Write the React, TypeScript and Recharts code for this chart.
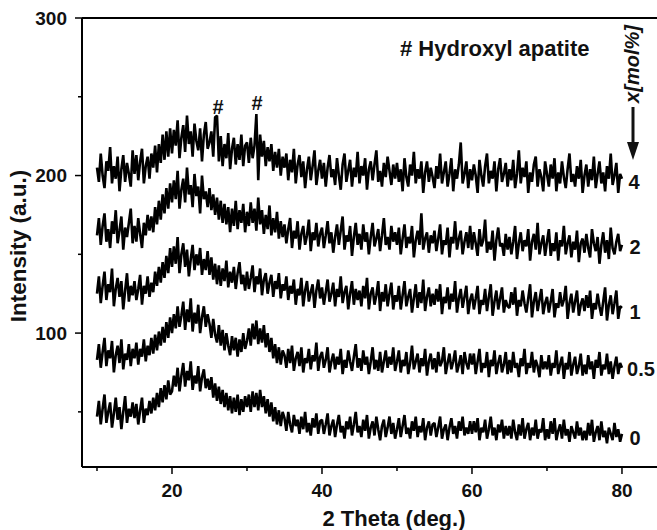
import { LineChart, Line, XAxis, YAxis, ReferenceLine } from "recharts";

// 2-theta sampling of the scans (deg.)
const START = 10;
const STEP = 0.25;

// intensity, one row = 5 deg.
const s4 = [
  205, 196, 214, 200, 192, 209, 203, 218, 195, 206, 198, 212, 190, 204, 213, 196, 208, 201, 193, 216,
  201, 213, 197, 209, 217, 195, 206, 212, 198, 214, 205, 219, 202, 220, 208, 226, 210, 228, 212, 230,
  214, 229, 219, 235, 211, 224, 232, 215, 238, 220, 228, 212, 233, 222, 216, 230, 209, 226, 234, 217,
  221, 228, 212, 237, 238, 209, 225, 206, 220, 211, 227, 204, 217, 224, 207, 220, 210, 226, 206, 219,
  221, 208, 224, 211, 219, 239, 197, 226, 212, 222, 206, 218, 209, 220, 203, 215, 205, 217, 200, 212,
  205, 214, 197, 210, 202, 217, 195, 207, 213, 199, 209, 192, 204, 212, 197, 206, 216, 194, 203, 210,
  198, 208, 193, 205, 213, 199, 204, 194, 211, 200, 191, 207, 214, 196, 203, 210, 193, 205, 199, 215,
  195, 206, 200, 211, 191, 204, 209, 197, 207, 216, 196, 203, 193, 208, 199, 212, 203, 194, 207, 198,
  208, 196, 204, 190, 211, 199, 193, 207, 200, 215, 195, 204, 198, 209, 189, 202, 209, 196, 205, 199,
  192, 206, 198, 214, 195, 202, 209, 193, 201, 211, 190, 204, 198, 207, 221, 195, 201, 209, 192, 204,
  197, 207, 200, 189, 210, 200, 193, 206, 214, 195, 203, 198, 209, 190, 204, 211, 196, 201, 208, 193,
  204, 197, 210, 192, 201, 216, 195, 205, 199, 209, 189, 202, 196, 207, 212, 193, 204, 199, 190, 209,
  201, 193, 207, 198, 211, 190, 202, 195, 209, 199, 192, 204, 214, 196, 201, 193, 206, 198, 210, 189,
  200, 207, 193, 204, 197, 212, 192, 201, 209, 195, 202, 190, 206, 198, 214, 194, 200, 208, 189, 201,
  198,
];

const s2 = [
  162, 173, 156, 168, 176, 158, 166, 154, 171, 163, 178, 157, 165, 174, 153, 167, 161, 170, 179, 157,
  168, 158, 173, 163, 154, 170, 162, 175, 165, 174, 164, 180, 169, 184, 172, 188, 176, 192, 179, 195,
  183, 197, 185, 203, 179, 191, 198, 183, 205, 188, 194, 180, 201, 187, 193, 176, 200, 185, 190, 180,
  192, 178, 188, 175, 186, 172, 184, 170, 182, 169, 180, 164, 179, 168, 184, 166, 178, 170, 182, 164,
  177, 168, 183, 170, 179, 165, 186, 169, 178, 163, 175, 166, 181, 162, 173, 164, 177, 160, 171, 161,
  169, 157, 166, 173, 154, 165, 160, 171, 153, 163, 168, 156, 162, 172, 152, 164, 159, 170, 155, 163,
  167, 154, 162, 171, 157, 164, 151, 161, 169, 156, 165, 174, 153, 162, 158, 168, 149, 161, 170, 156,
  163, 153, 169, 158, 164, 150, 161, 170, 155, 160, 166, 152, 162, 173, 156, 161, 153, 168, 158, 164,
  156, 167, 150, 160, 169, 154, 161, 157, 168, 148, 159, 165, 156, 176, 153, 160, 164, 151, 162, 157,
  165, 152, 160, 169, 150, 159, 156, 167, 148, 161, 157, 171, 153, 160, 165, 150, 158, 164, 154, 168,
  153, 164, 157, 149, 166, 155, 159, 172, 151, 158, 153, 165, 146, 159, 167, 155, 157, 149, 163, 153,
  161, 150, 158, 168, 147, 157, 164, 152, 159, 155, 166, 146, 158, 163, 153, 170, 150, 157, 162, 149,
  158, 166, 149, 157, 152, 164, 146, 159, 155, 168, 150, 157, 162, 148, 158, 153, 165, 145, 157, 160,
  151, 163, 154, 148, 166, 157, 152, 161, 144, 156, 164, 151, 159, 147, 167, 154, 150, 158, 163, 152,
  156,
];

const s1 = [
  125, 136, 119, 130, 139, 121, 131, 126, 141, 117, 128, 135, 123, 133, 115, 127, 138, 120, 130, 124,
  133, 121, 128, 137, 118, 130, 125, 136, 123, 132, 126, 139, 130, 142, 132, 145, 135, 149, 138, 154,
  142, 155, 144, 161, 138, 150, 157, 142, 153, 136, 147, 156, 140, 150, 143, 154, 137, 147, 140, 152,
  137, 148, 134, 144, 131, 143, 130, 141, 133, 146, 129, 139, 132, 142, 128, 138, 145, 131, 137, 127,
  139, 128, 135, 143, 126, 136, 131, 141, 124, 134, 138, 125, 132, 137, 123, 133, 128, 138, 122, 131,
  127, 136, 121, 130, 125, 134, 118, 128, 124, 135, 117, 127, 133, 120, 126, 131, 116, 127, 134, 122,
  129, 118, 126, 134, 120, 125, 132, 117, 128, 123, 136, 119, 126, 130, 115, 125, 133, 118, 128, 121,
  127, 117, 130, 122, 135, 115, 125, 129, 118, 124, 133, 114, 126, 120, 131, 117, 125, 132, 115, 124,
  120, 130, 115, 124, 133, 117, 123, 128, 113, 122, 131, 116, 126, 119, 134, 114, 123, 129, 117, 125,
  118, 128, 120, 131, 112, 123, 119, 129, 115, 125, 120, 133, 113, 122, 128, 116, 123, 130, 112, 121,
  125, 115, 122, 130, 112, 121, 118, 128, 114, 123, 131, 111, 120, 127, 115, 122, 129, 113, 121, 117,
  116, 126, 118, 129, 111, 121, 117, 127, 119, 113, 122, 131, 110, 120, 126, 114, 121, 128, 112, 119,
  123, 113, 120, 128, 110, 119, 116, 126, 117, 121, 130, 109, 119, 125, 113, 120, 127, 111, 118, 122,
  114, 124, 116, 127, 109, 119, 115, 125, 117, 111, 120, 129, 108, 118, 124, 112, 119, 127, 109, 117,
  116,
];

const s05 = [
  83, 93, 78, 88, 97, 79, 89, 84, 95, 75, 86, 92, 81, 96, 77, 87, 83, 93, 79, 90,
  84, 94, 80, 90, 85, 96, 82, 92, 86, 97, 87, 99, 89, 101, 92, 104, 94, 107, 97, 110,
  100, 112, 103, 117, 104, 111, 120, 102, 115, 107, 122, 101, 113, 106, 118, 100, 110, 117, 104, 112,
  106, 97, 109, 99, 94, 105, 92, 102, 89, 100, 92, 86, 98, 89, 97, 85, 96, 88, 100, 90,
  95, 103, 92, 106, 96, 108, 93, 103, 94, 105, 91, 100, 88, 97, 84, 93, 81, 91, 80, 89,
  86, 78, 90, 81, 92, 76, 84, 88, 79, 91, 75, 84, 81, 90, 77, 86, 82, 94, 76, 85,
  88, 78, 83, 91, 75, 82, 87, 77, 85, 80, 90, 74, 83, 78, 89, 82, 76, 85, 93, 78,
  84, 76, 89, 80, 85, 74, 82, 91, 77, 83, 76, 88, 75, 82, 89, 78, 85, 80, 91, 76,
  82, 89, 75, 83, 79, 88, 74, 81, 92, 77, 82, 87, 75, 84, 79, 90, 73, 82, 87, 77,
  84, 75, 88, 79, 82, 91, 74, 81, 87, 77, 82, 89, 75, 80, 86, 74, 88, 81, 77, 87,
  80, 87, 74, 82, 90, 75, 81, 78, 88, 72, 83, 79, 89, 74, 81, 86, 75, 80, 88, 74,
  83, 75, 88, 78, 81, 72, 84, 79, 90, 74, 81, 78, 88, 75, 83, 79, 72, 86, 77, 82,
  77, 86, 73, 81, 78, 89, 74, 80, 85, 71, 81, 77, 88, 73, 80, 85, 74, 79, 87, 73,
  80, 74, 86, 77, 82, 71, 83, 78, 88, 73, 80, 77, 87, 74, 82, 71, 79, 85, 74, 81,
  78,
];

const s0 = [
  47, 57, 42, 52, 61, 43, 50, 56, 40, 49, 59, 45, 53, 39, 50, 60, 43, 52, 47, 56,
  46, 55, 42, 51, 59, 43, 52, 48, 57, 49, 59, 51, 62, 53, 65, 56, 67, 58, 70, 61,
  63, 73, 66, 78, 63, 73, 81, 66, 76, 70, 82, 64, 73, 68, 79, 63, 72, 77, 65, 71,
  64, 72, 59, 68, 57, 66, 55, 64, 53, 62, 51, 60, 49, 59, 50, 61, 48, 58, 50, 60,
  53, 61, 50, 63, 53, 62, 51, 64, 53, 60, 49, 58, 47, 56, 44, 53, 42, 51, 41, 50,
  46, 38, 50, 42, 37, 48, 41, 45, 36, 47, 39, 50, 37, 43, 35, 46, 40, 49, 36, 44,
  45, 36, 42, 49, 35, 41, 45, 34, 42, 48, 37, 41, 33, 44, 39, 47, 35, 42, 50, 37,
  41, 34, 45, 38, 48, 33, 40, 44, 35, 47, 39, 32, 41, 45, 34, 40, 47, 36, 43, 33,
  39, 46, 34, 41, 48, 36, 40, 33, 44, 38, 47, 34, 41, 37, 46, 32, 40, 44, 35, 42,
  43, 34, 40, 47, 33, 39, 42, 32, 40, 46, 36, 41, 33, 44, 38, 47, 35, 40, 36, 44,
  36, 44, 37, 46, 32, 40, 37, 45, 33, 39, 47, 35, 40, 32, 42, 37, 45, 33, 41, 35,
  41, 33, 45, 37, 32, 42, 35, 46, 33, 39, 43, 32, 40, 35, 45, 33, 39, 37, 46, 32,
  39, 33, 44, 36, 46, 32, 38, 42, 33, 45, 35, 39, 31, 41, 37, 33, 44, 35, 40, 32,
  38, 32, 43, 35, 45, 31, 37, 41, 32, 44, 34, 38, 30, 40, 36, 32, 43, 34, 39, 31,
  36,
];

const seriesKeys = ["x4", "x2", "x1", "x05", "x0"];
const seriesValues = [s4, s2, s1, s05, s0];

const xTicks = [10, 20, 30, 40, 50, 60, 70, 80];
const xLabeled = [20, 40, 60, 80];
const yTicks = [50, 100, 150, 200, 250, 300];
const yLabeled = [100, 200, 300];

const data = s0.map((_, i) => {
  const row: Record<string, number> = { theta: START + i * STEP };
  seriesKeys.forEach((k, j) => {
    row[k] = seriesValues[j][i];
  });
  return row;
});

const FONT = "'Liberation Sans', Arial, sans-serif";

function XTick({ x, y, payload }: any) {
  const major = xLabeled.includes(payload.value);
  return (
    <g>
      <line x1={x} x2={x} y1={y} y2={y + (major ? 7 : 4)} stroke="#000" strokeWidth={1.5} />
      {major && (
        <text x={x} y={y + 23} textAnchor="middle" dominantBaseline="central"
          fontFamily={FONT} fontWeight="bold" fontSize={19} fill="#111">
          {payload.value}
        </text>
      )}
    </g>
  );
}

function YTick({ x, y, payload }: any) {
  const major = yLabeled.includes(payload.value);
  return (
    <g>
      <line x1={x - (major ? 7 : 4)} x2={x} y1={y} y2={y} stroke="#000" strokeWidth={1.5} />
      {major && (
        <text x={x - 15} y={y} textAnchor="end" dominantBaseline="central"
          fontFamily={FONT} fontWeight="bold" fontSize={19} fill="#111">
          {payload.value}
        </text>
      )}
    </g>
  );
}

const txt = { fontFamily: FONT, fontWeight: "bold" as const, fill: "#111" };

export default function App() {
  return (
    <div style={{ position: "relative", width: 657, height: 530, background: "#fff" }}>
      <style>{"body{margin:0}"}</style>
      <LineChart width={657} height={530} data={data}
        margin={{ top: 18, right: 0, bottom: 23, left: 22 }}>
        <XAxis dataKey="theta" type="number" domain={[8, 84.67]} allowDataOverflow
          ticks={xTicks} interval={0} height={40} tickSize={0} tickMargin={0}
          tickLine={false} axisLine={{ stroke: "#000", strokeWidth: 2 }} tick={XTick} />
        <YAxis type="number" domain={[15, 300]} allowDataOverflow ticks={yTicks}
          interval={0} width={60} tickSize={0} tickMargin={0} tickLine={false}
          axisLine={{ stroke: "#000", strokeWidth: 2 }} tick={YTick} />
        <ReferenceLine y={300} stroke="#000" strokeWidth={2} />
        {seriesKeys.map((k) => (
          <Line key={k} dataKey={k} type="linear" stroke="#000" strokeWidth={2.6}
            strokeLinejoin="bevel" dot={false} activeDot={false} isAnimationActive={false} />
        ))}
      </LineChart>
      <svg width={657} height={530}
        style={{ position: "absolute", left: 0, top: 0, pointerEvents: "none" }}>
        <text x={394} y={518} textAnchor="middle" dominantBaseline="central" fontSize={22} {...txt}>
          2 Theta (deg.)
        </text>
        <text x={18} y={246} transform="rotate(-90 18 246)" textAnchor="middle"
          dominantBaseline="central" fontSize={22.5} {...txt}>
          Intensity (a.u.)
        </text>
        <text x={400} y={48} dominantBaseline="central" fontSize={22} {...txt}>
          # Hydroxyl apatite
        </text>
        <text x={218} y={107} textAnchor="middle" dominantBaseline="central" fontSize={20} {...txt}>#</text>
        <text x={257} y={103} textAnchor="middle" dominantBaseline="central" fontSize={20} {...txt}>#</text>
        <text x={632} y={64} transform="rotate(-90 632 64)" textAnchor="middle"
          dominantBaseline="central" fontSize={20} fontStyle="italic" {...txt}>
          x[mol%]
        </text>
        <line x1={633} x2={633} y1={107} y2={146} stroke="#111" strokeWidth={3} />
        <polygon points="627,142 639,142 633,160" fill="#111" />
        <text x={634} y={182} textAnchor="middle" dominantBaseline="central" fontSize={20} {...txt}>4</text>
        <text x={635} y={247} textAnchor="middle" dominantBaseline="central" fontSize={20} {...txt}>2</text>
        <text x={635} y={312} textAnchor="middle" dominantBaseline="central" fontSize={20} {...txt}>1</text>
        <text x={641} y={369} textAnchor="middle" dominantBaseline="central" fontSize={20} {...txt}>0.5</text>
        <text x={635} y={438} textAnchor="middle" dominantBaseline="central" fontSize={20} {...txt}>0</text>
      </svg>
    </div>
  );
}
